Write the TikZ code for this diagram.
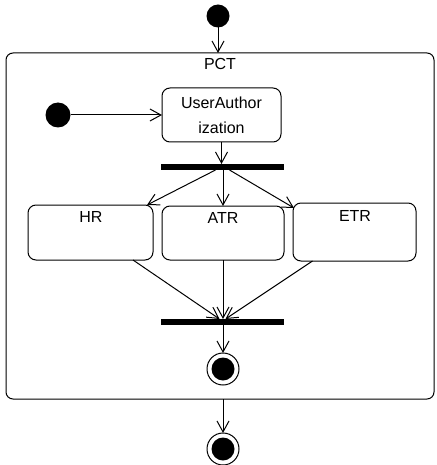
\documentclass[tikz,border=0pt]{standalone}
\usepackage{fontspec}
\setmainfont{Liberation Sans}
\usetikzlibrary{arrows.meta,calc}

\begin{document}
\begin{tikzpicture}[x=1pt,y=-1pt,
  every node/.style={inner sep=0pt, outer sep=0pt},
  txt/.style={font=\fontsize{16}{25}\selectfont, align=center},
  act/.style={draw, line width=1pt, rounded corners=8pt, fill=white},
  bar/.style={fill=black, draw=none},
  startdot/.style={circle, fill=black, minimum size=#1},
  flow/.style={draw, line width=1pt, -{Straight Barb[length=11pt,width=12pt,line width=1pt]}},
]
\useasboundingbox (0,0) rectangle (436,465);

% composite state
\node[act, rounded corners=7pt, minimum width=428, minimum height=346] (pct) at (220,226) {};
\node[txt] (pctl) at (220,64) {PCT};

% initial states
\node[startdot=23pt] (init1) at (218,16) {};
\node[startdot=25pt] (init2) at (58,115) {};

% activities
\node[act, txt, minimum width=119, minimum height=54] (ua) at (221.5,115) {UserAuthor\\ization};
\node[act, minimum width=125, minimum height=55] (hr) at (90.5,232.5) {};
\node[act, minimum width=122, minimum height=54] (atr) at (223,233) {};
\node[act, minimum width=123, minimum height=58] (etr) at (354.5,232) {};
\node[txt] (hrl) at (91,216.5) {HR};
\node[txt] (atrl) at (223,218) {ATR};
\node[txt] (etrl) at (355,215.5) {ETR};

% fork / join bars
\node[bar, minimum width=123, minimum height=6] (fork) at (222.5,167) {};
\node[bar, minimum width=123, minimum height=6] (join) at (222.5,322) {};

% final states
\node[circle, draw, line width=1pt, fill=white, minimum size=32pt] (fin1) at (223,369) {};
\node[circle, fill=black, minimum size=23pt] (fin1c) at (fin1) {};
\node[circle, draw, line width=1pt, fill=white, minimum size=32pt] (fin2) at (223,449) {};
\node[circle, fill=black, minimum size=23pt] (fin2c) at (fin2) {};

% transitions
\path[flow] (init1) -- (init1 |- pct.north);
\path[flow] (init2) -- (ua.west);
\path[flow] (ua.south) -- (ua.south |- fork.north);
\path[flow] ($(fork.south)+(-7,0)$) -- ($(hr.north east)+(-6,0)$);
\path[flow] (fork.south -| atr.north) -- (atr.north);
\path[flow] ($(fork.south)+(7,0)$) -- ($(etr.north west)+(1,5)$);
\path[flow] ($(hr.south)+(42.5,0)$) -- ($(join.north)+(-3,0)$);
\path[flow] (atr.south) -- (atr.south |- join.north);
\path[flow] ($(etr.south)+(-42,0)$) -- ($(join.north)+(3,0)$);
\path[flow] (join.south -| fin1.north) -- (fin1.north);
\path[flow] (pct.south -| fin2.north) -- (fin2.north);
\end{tikzpicture}
\end{document}
